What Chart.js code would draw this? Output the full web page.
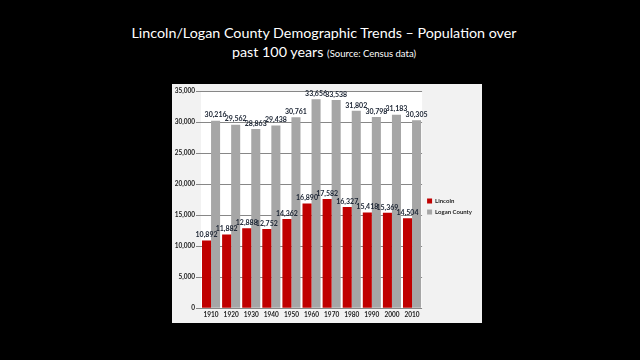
<!DOCTYPE html>
<html>
<head>
<meta charset="utf-8">
<script src="https://cdn.jsdelivr.net/npm/chart.js@4"></script>
<style>
  html, body { margin: 0; padding: 0; background: #000; }
  body { width: 640px; height: 360px; position: relative; overflow: hidden; font-family: Lato, "Open Sans", sans-serif; }
  #title { position: absolute; left: 0; top: 23px; width: 648px; text-align: center; color: #fff; font-size: 14.3px; line-height: 19px; }
  #title small { font-size: 9.5px; }
  #panel { position: absolute; left: 172px; top: 84px; width: 310px; height: 239px; background: #f2f2f2; }
</style>
</head>
<body>
<div id="title">Lincoln/Logan County Demographic Trends – Population over<br>past 100 years <small>(Source: Census data)</small></div>
<div id="panel"><canvas id="popChart" width="310" height="239"></canvas></div>
<script>
    const years = ['1910', '1920', '1930', '1940', '1950', '1960', '1970', '1980', '1990', '2000', '2010'];
    const lincoln = [10892, 11882, 12888, 12752, 14362, 16890, 17582, 16327, 15418, 15369, 14504];
    const loganCounty = [30216, 29562, 28863, 29438, 30761, 33656, 33538, 31802, 30798, 31183, 30305];
    const yTicks = [0, 5000, 10000, 15000, 20000, 25000, 30000, 35000];

    // white plot area inside the gray panel
    const plotBackground = {
        id: 'plotBackground',
        beforeDraw: function (chart) {
            const a = chart.chartArea;
            const ctx = chart.ctx;
            ctx.save();
            ctx.fillStyle = '#ffffff';
            ctx.fillRect(a.left, a.top, a.right - a.left, a.bottom - a.top + 1);
            ctx.restore();
        }
    };

    // value labels above each bar
    const valueLabels = {
        id: 'valueLabels',
        afterDatasetsDraw: function (chart) {
            const ctx = chart.ctx;
            ctx.save();
            ctx.font = 'bold 7px Lato, sans-serif';
            ctx.fillStyle = '#1b2433';
            ctx.textAlign = 'center';
            ctx.textBaseline = 'bottom';
            chart.data.datasets.forEach(function (ds, i) {
                chart.getDatasetMeta(i).data.forEach(function (bar, j) {
                    ctx.fillText(ds.data[j].toLocaleString('en-US'), bar.x, bar.y - 2);
                });
            });
            ctx.restore();
        }
    };

    new Chart(document.getElementById('popChart').getContext('2d'), {
        type: 'bar',
        data: {
            labels: years,
            datasets: [
                { label: 'Lincoln', data: lincoln, backgroundColor: '#c00000', categoryPercentage: 0.9, barPercentage: 1.0 },
                { label: 'Logan County', data: loganCounty, backgroundColor: '#a6a6a6', categoryPercentage: 0.9, barPercentage: 1.0 }
            ]
        },
        options: {
            responsive: false,
            animation: false,
            layout: { padding: { top: 7, right: 0, bottom: 1, left: 0 } },
            scales: {
                x: {
                    grid: { display: false, drawTicks: false },
                    border: { display: false },
                    ticks: {
                        color: '#222', maxRotation: 0, minRotation: 0, autoSkip: false,
                        font: { size: 6.5, weight: 'bold', family: 'Lato' }, padding: 3
                    }
                },
                y: {
                    min: 0,
                    max: 35000,
                    afterFit: function (scale) { scale.width = 29; },
                    afterBuildTicks: function (scale) { scale.ticks = yTicks.map(v => ({ value: v })); },
                    grid: { color: '#878787', tickLength: 5, drawTicks: true },
                    border: { display: false },
                    ticks: {
                        color: '#222',
                        font: { size: 6.5, weight: 'bold', family: 'Lato' },
                        padding: 1,
                        callback: function (v) { return v.toLocaleString('en-US'); }
                    }
                }
            },
            plugins: {
                legend: {
                    position: 'right',
                    labels: {
                        boxWidth: 5,
                        boxHeight: 5,
                        padding: 5,
                        color: '#222',
                        font: { size: 6, weight: 'bold', family: 'Lato' }
                    }
                },
                tooltip: { enabled: false }
            }
        },
        plugins: [plotBackground, valueLabels]
    });
</script>
</body>
</html>
